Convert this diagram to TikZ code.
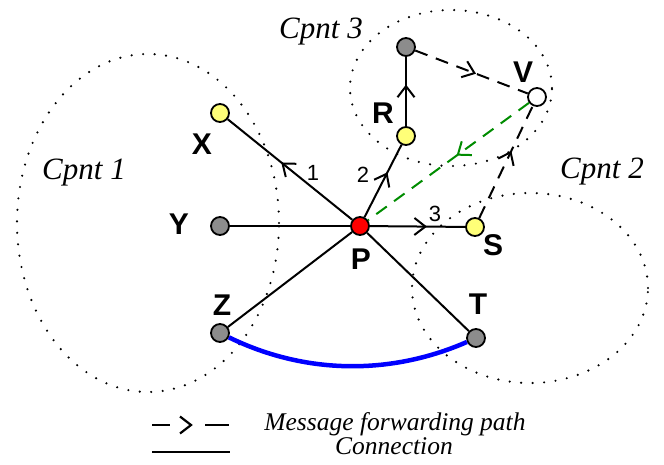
\documentclass[tikz,border=0pt]{standalone}
\usepackage{fontspec}
\setmainfont{Liberation Serif}
\setsansfont{Liberation Sans}
\usetikzlibrary{arrows.meta,decorations.markings}
\definecolor{nodeyellow}{RGB}{255,255,120}
\definecolor{nodegray}{RGB}{140,140,140}
\definecolor{pathgreen}{RGB}{0,140,0}
\definecolor{curveblue}{RGB}{0,0,255}
\begin{document}
\begin{tikzpicture}[x=1pt,y=-1pt,
  vtx/.style={circle,draw=black,line width=1.8pt,minimum size=18pt,inner sep=0pt},
  yv/.style={vtx,fill=nodeyellow},
  gv/.style={vtx,fill=nodegray},
  rv/.style={vtx,fill=red},
  wv/.style={vtx,fill=white},
  lbl/.style={font=\sffamily\bfseries\fontsize{30}{30}\selectfont,inner sep=0pt},
  num/.style={font=\sffamily\fontsize{22}{22}\selectfont,inner sep=0pt},
  cpnt/.style={font=\itshape\fontsize{31}{31}\selectfont,inner sep=0pt,anchor=base},
  legtext/.style={font=\itshape\fontsize{25.5}{25.5}\selectfont,inner sep=0pt,anchor=base},
  conn/.style={line width=2pt},
  fwd/.style={line width=2pt,dash pattern=on 13pt off 9pt},
  barb/.style={postaction={decorate,decoration={markings,mark=at position #1 with {\arrow{Straight Barb[length=11pt,width=17pt]}}}}},
  comp/.style={line width=2.4pt,dash pattern=on 0pt off 11.5pt,line cap=round}
]
\useasboundingbox (0,0) rectangle (664,464);

% components
\draw[comp] (148,223) ellipse [x radius=131pt, y radius=169pt];
\draw[comp] (530,288) ellipse [x radius=118pt, y radius=95pt];
\draw[comp] (451,88) ellipse [x radius=101pt, y radius=78pt];

\node[cpnt] (c1) at (84,179) {Cpnt 1};
\node[cpnt] (c2) at (602,178) {Cpnt 2};
\node[cpnt] (c3) at (321,38) {Cpnt 3};

% vertices
\node[rv] (P) at (360,226) {};
\node[yv] (X) at (220,113) {};
\node[gv] (Y) at (220,226) {};
\node[gv] (Z) at (220,333) {};
\node[gv] (T) at (476,338) {};
\node[yv] (S) at (475,227) {};
\node[yv] (R) at (406,136) {};
\node[gv] (Q) at (406,47) {};
\node[wv] (V) at (537,97) {};

% labels
\node[lbl] (lX) at (202,144) {X};
\node[lbl] (lY) at (179,224) {Y};
\node[lbl] (lZ) at (222,305) {Z};
\node[lbl] (lP) at (361,259) {P};
\node[lbl] (lT) at (478,304) {T};
\node[lbl] (lS) at (493,245) {S};
\node[lbl] (lR) at (383,113) {R};
\node[lbl] (lV) at (523,72) {V};

\node[num] (n1) at (313,173) {1};
\node[num] (n2) at (363,175) {2};
\node[num] (n3) at (435,214) {3};

% connections
\draw[conn,barb=0.57] (P) -- (X);
\draw[conn] (P) -- (Y);
\draw[conn] (P) -- (Z);
\draw[conn] (P) -- (T);
\draw[conn,barb=0.6] (P) -- (S);
\draw[conn,barb=0.62] (P) -- (R);
\draw[conn,barb=0.6] (R) -- (Q);

% forwarding paths
\draw[fwd,barb=0.54] (Q) -- (V);
\draw[fwd,barb=0.6] (S) -- (V);
\draw[fwd,pathgreen,barb=0.45] (V) -- (P);

% blue link
\draw[curveblue,line width=4.5pt] (Z) .. controls (304,374) and (389,376) .. (T);

% legend
\coordinate (la) at (152,425);
\coordinate (lb) at (229,425);
\coordinate (lc) at (152,452);
\coordinate (ld) at (230,452);
\draw[line width=2.2pt,dash pattern=on 18pt off 35pt on 24pt off 100pt,barb=0.53] (la) -- (lb);
\draw[line width=2.2pt] (lc) -- (ld);
\node[legtext] (t1) at (395,430) {Message forwarding path};
\node[legtext] (t2) at (394,454) {Connection};
\end{tikzpicture}
\end{document}
